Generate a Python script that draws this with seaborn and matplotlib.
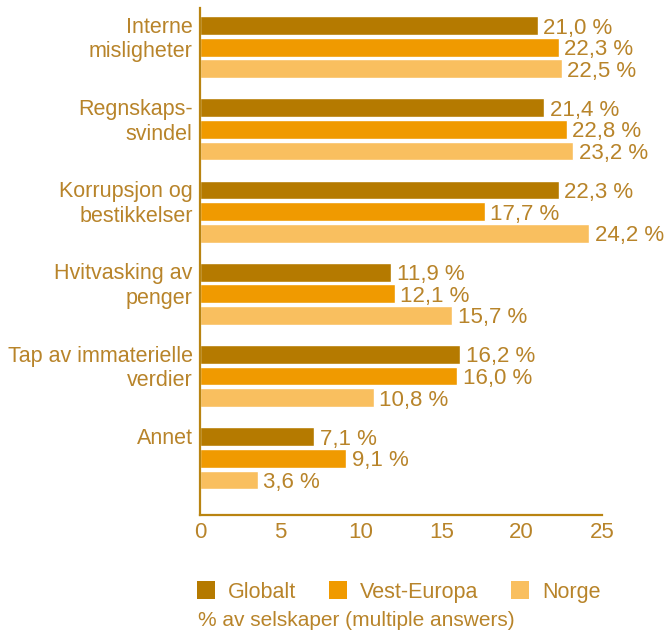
import matplotlib
matplotlib.use("Agg")
from matplotlib import pyplot as plt
from matplotlib.patches import Patch
import pandas as pd
import seaborn as sns

categories = ['Interne\nmisligheter', 'Regnskaps-\nsvindel', 'Korrupsjon og\nbestikkelser',
              'Hvitvasking av\npenger', 'Tap av immaterielle\nverdier', 'Annet']
regions = ['Globalt', 'Vest-Europa', 'Norge']
globalt = [21.0, 21.4, 22.3, 11.9, 16.2, 7.1]
vest_europa = [22.3, 22.8, 17.7, 12.1, 16.0, 9.1]
norge = [22.5, 23.2, 24.2, 15.7, 10.8, 3.6]
x_ticks = [0, 5, 10, 15, 20, 25]

colors = ['#B57A00', '#F09A00', '#F9BF5F']
text_color = '#B8842A'
line_color = '#B98411'

df = pd.DataFrame({
    'kategori': categories * 3,
    'region': [r for r in regions for _ in categories],
    'verdi': globalt + vest_europa + norge,
})

sns.set_style('white')
plt.rcParams['font.family'] = ['Liberation Sans', 'DejaVu Sans']

fig = plt.figure(figsize=(6.66, 6.33), dpi=100)
ax = fig.add_axes([0.3003, 0.1864, 0.6036, 0.8006])

sns.barplot(data=df, y='kategori', x='verdi', hue='region', orient='h',
            palette=colors, width=0.79, gap=0.13, saturation=1, ax=ax)
ax.get_legend().remove()

fs = 16
fs_small = 15.5
for cont in ax.containers:
    vals = cont.datavalues
    texts = ax.bar_label(cont, labels=[f'{v:.1f} %'.replace('.', ',') for v in vals],
                         padding=4, fontsize=fs, color=text_color)
    for t in texts:
        t.set_va('center_baseline')

ax.set_xlim(0, 25)
ax.set_ylim(5.69, -0.474)
ax.set_xticks(x_ticks)
ax.set_xticklabels([str(t) for t in x_ticks])
ax.set_yticks([])
ax.set_xlabel('')
ax.set_ylabel('')

for i, lab in enumerate(categories):
    ax.text(-0.45, i - 0.37, lab, ha='right', va='top', fontsize=fs_small,
            color=text_color, linespacing=1.22)

for s in ['top', 'right']:
    ax.spines[s].set_visible(False)
for s in ['left', 'bottom']:
    ax.spines[s].set_color(line_color)
    ax.spines[s].set_linewidth(1.6)
ax.tick_params(axis='x', direction='in', length=10, width=1.6, color=line_color,
               labelcolor=text_color, labelsize=fs, pad=5)

handles = [Patch(facecolor=c, edgecolor='none') for c in colors]
fig.legend(handles, regions, loc='center left', bbox_to_anchor=(0.296, 1 - 592 / 633),
           ncol=3, frameon=False, fontsize=fs_small, labelcolor=text_color,
           handlelength=0.85, handleheight=0.85, handletextpad=0.6,
           columnspacing=1.5, borderaxespad=0, borderpad=0)

fig.text(198 / 666, 1 - 621 / 633, '% av selskaper (multiple answers)', ha='left',
         va='center', fontsize=15, color=text_color)

fig.savefig('out.png', dpi=100)
